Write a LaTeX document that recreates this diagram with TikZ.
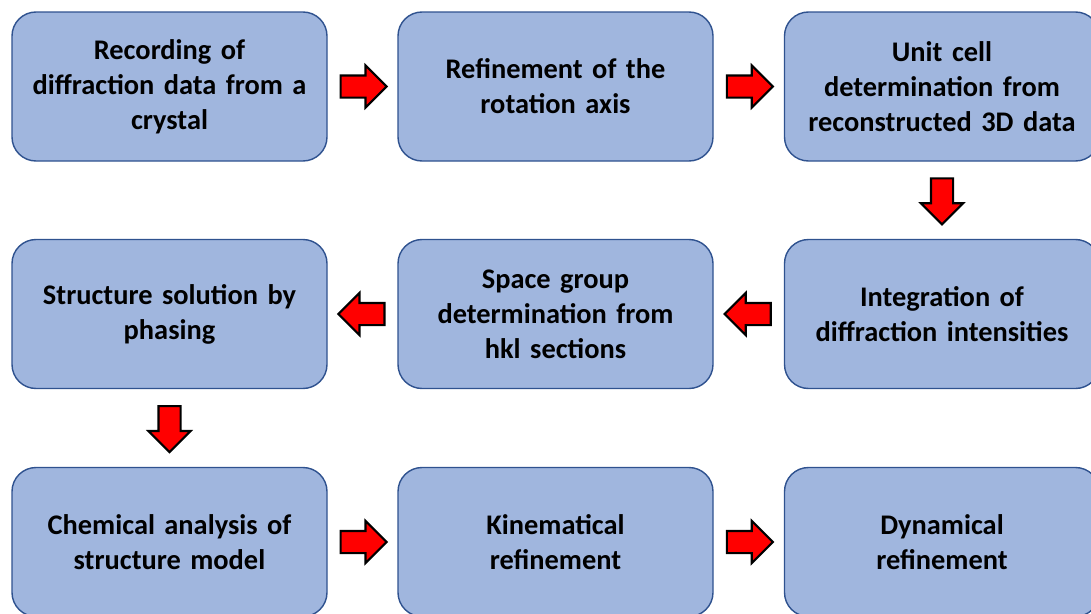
\documentclass[tikz,border=0pt]{standalone}
\usepackage{fontspec}
\setmainfont{Carlito}
\usetikzlibrary{shapes.arrows,calc}
\definecolor{boxfill}{RGB}{160,182,222}
\definecolor{boxline}{RGB}{47,82,143}
\tikzset{
  every picture/.style={font=\fontsize{20.2}{25}\selectfont\bfseries},
  stage/.style={draw=boxline,fill=boxfill,line width=1pt,rounded corners=0.6cm,
    minimum width=7.875cm,minimum height=3.725cm,text width=7.6cm,align=center,inner sep=0pt},
  flow/.style={single arrow,draw=black,fill=red,line width=1.5pt,inner sep=0.25cm,
    minimum height=1.15cm,single arrow head extend=0.25cm,anchor=tail},
}

\begin{document}
\begin{tikzpicture}
  \clip (0,0) rectangle (27.275,-15.325);
  % first row
  \node[stage] (rec) at (4.2375,-2.1625) {Recording of\\diffraction data from a\\crystal};
  \node[stage] (axis) at (13.8875,-2.1625) {Refinement of the\\rotation axis};
  \node[stage] (cell) at (23.55,-2.1625) {Unit cell\\determination from\\reconstructed 3D data};
  % second row
  \node[stage] (solve) at (4.2375,-7.85) {Structure solution by\\phasing};
  \node[stage] (group) at (13.8875,-7.85) {Space group\\determination from\\hkl sections};
  \node[stage] (integ) at (23.55,-7.85) {Integration of\\diffraction intensities};
  % third row
  \node[stage] (chem) at (4.2375,-13.55) {Chemical analysis of\\structure model};
  \node[stage] (kin) at (13.8875,-13.55) {Kinematical\\refinement};
  \node[stage] (dyn) at (23.55,-13.55) {Dynamical\\refinement};
  \foreach \a/\b/\r in {rec/axis/0, axis/cell/0, cell/integ/270, integ/group/180,
                        group/solve/180, solve/chem/270, chem/kin/0, kin/dyn/0}
    \node[flow,rotate=\r] (\a-\b) at ($(\a)!0.5!(\b)!0.575cm!(\a)$) {};
\end{tikzpicture}
\end{document}
